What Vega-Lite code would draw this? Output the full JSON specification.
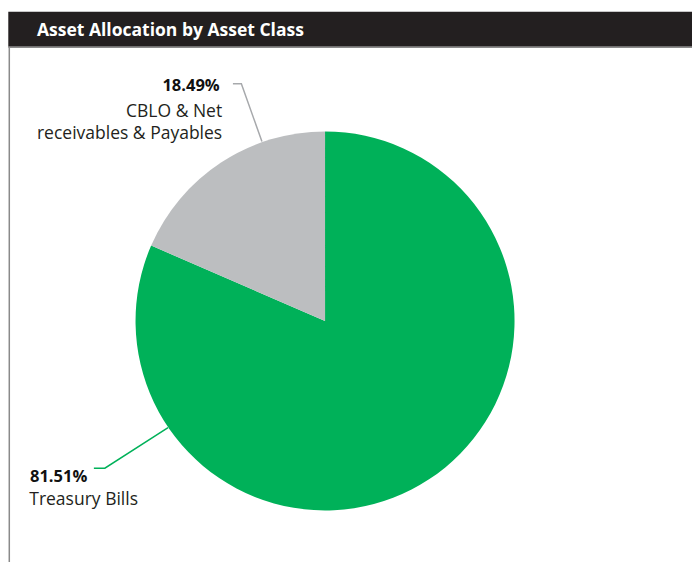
{
  "$schema": "https://vega.github.io/schema/vega-lite/v6.json",
  "width": 693,
  "height": 563,
  "padding": 0,
  "autosize": {"type": "fit", "contains": "padding"},
  "background": "white",
  "view": {"stroke": null},
  "config": {"font": "Open Sans", "axis": {"disable": true}},
  "datasets": {
    "slices": [
      {"category": "Treasury Bills", "share": 0.8151},
      {"category": "CBLO & Net receivables & Payables", "share": 0.1849}
    ],
    "labels": [
      {"category": "CBLO & Net receivables & Payables", "share": 0.1849, "name": "CBLO & Net\nreceivables & Payables", "pctX": -0.5567, "pctY": 1.2164, "nameX": -0.5435, "nameY": 1.0792},
      {"category": "Treasury Bills", "share": 0.8151, "name": "Treasury Bills", "pctX": -1.5594, "pctY": -0.8522, "nameX": -1.5631, "nameY": -0.9736}
    ],
    "leaders": [
      {"category": "CBLO & Net receivables & Payables", "seq": 1, "x": -0.4868, "y": 1.2533},
      {"category": "CBLO & Net receivables & Payables", "seq": 2, "x": -0.4422, "y": 1.2533},
      {"category": "CBLO & Net receivables & Payables", "seq": 3, "x": -0.3335, "y": 0.9488},
      {"category": "Treasury Bills", "seq": 1, "x": -1.2216, "y": -0.7784},
      {"category": "Treasury Bills", "seq": 2, "x": -1.1636, "y": -0.7784},
      {"category": "Treasury Bills", "seq": 3, "x": -0.8296, "y": -0.5636}
    ],
    "frame": [
      {"part": "header", "x": -1.6739, "x2": 1.9393, "y": 1.6348, "y2": 1.4501, "title": "Asset Allocation by Asset Class", "tx": -1.5224, "ty": 1.5066}
    ],
    "borders": [
      {"part": "underline", "x": -1.6739, "x2": 1.9393, "y": 1.4470, "y2": 1.4470},
      {"part": "left", "x": -1.6686, "x2": -1.6686, "y": 1.4470, "y2": -1.2744}
    ]
  },
  "resolve": {"scale": {"color": "independent"}},
  "layer": [
    {
      "data": {"name": "frame"},
      "mark": {"type": "rect", "color": "#231f20"},
      "encoding": {
        "x": {"field": "x", "type": "quantitative", "scale": {"domain": [-1.7177, 1.9393], "nice": false, "zero": false}, "axis": null},
        "x2": {"field": "x2"},
        "y": {"field": "y", "type": "quantitative", "scale": {"domain": [-1.2744, 1.6966], "nice": false, "zero": false}, "axis": null},
        "y2": {"field": "y2"}
      }
    },
    {
      "data": {"name": "borders"},
      "mark": {"type": "rule", "color": "#8a8a8a", "strokeWidth": 1.5},
      "encoding": {
        "x": {"field": "x", "type": "quantitative"},
        "x2": {"field": "x2"},
        "y": {"field": "y", "type": "quantitative"},
        "y2": {"field": "y2"}
      }
    },
    {
      "data": {"name": "frame"},
      "mark": {"type": "text", "color": "white", "fontWeight": "bold", "fontSize": 17.5, "align": "left", "baseline": "alphabetic"},
      "encoding": {
        "x": {"field": "tx", "type": "quantitative"},
        "y": {"field": "ty", "type": "quantitative"},
        "text": {"field": "title"}
      }
    },
    {
      "data": {"name": "slices"},
      "mark": {"type": "arc", "outerRadius": 189.5},
      "encoding": {
        "x": {"datum": 0, "type": "quantitative"},
        "y": {"datum": 0, "type": "quantitative"},
        "theta": {"field": "share", "type": "quantitative", "stack": true},
        "order": {"field": "share", "sort": "descending"},
        "color": {"field": "category", "type": "nominal", "scale": {"domain": ["Treasury Bills", "CBLO & Net receivables & Payables"], "range": ["#00b159", "#bcbec0"]}, "legend": null}
      }
    },
    {
      "data": {"name": "leaders"},
      "mark": {"type": "line", "strokeWidth": 1.5},
      "encoding": {
        "x": {"field": "x", "type": "quantitative"},
        "y": {"field": "y", "type": "quantitative"},
        "order": {"field": "seq"},
        "detail": {"field": "category"},
        "color": {"field": "category", "type": "nominal", "scale": {"domain": ["Treasury Bills", "CBLO & Net receivables & Payables"], "range": ["#00b159", "#a7a9ac"]}, "legend": null}
      }
    },
    {
      "data": {"name": "labels"},
      "transform": [{"filter": "datum.category !== 'Treasury Bills'"}],
      "mark": {"type": "text", "align": "right", "baseline": "alphabetic", "fontWeight": "bold", "fontSize": 16.5, "color": "#111111"},
      "encoding": {
        "x": {"field": "pctX", "type": "quantitative"},
        "y": {"field": "pctY", "type": "quantitative"},
        "text": {"field": "share", "type": "quantitative", "format": ".2%"}
      }
    },
    {
      "data": {"name": "labels"},
      "transform": [{"filter": "datum.category !== 'Treasury Bills'"}],
      "mark": {"type": "text", "align": "right", "baseline": "alphabetic", "fontSize": 17.5, "lineBreak": "\n", "lineHeight": 22, "color": "#231f20"},
      "encoding": {
        "x": {"field": "nameX", "type": "quantitative"},
        "y": {"field": "nameY", "type": "quantitative"},
        "text": {"field": "name"}
      }
    },
    {
      "data": {"name": "labels"},
      "transform": [{"filter": "datum.category === 'Treasury Bills'"}],
      "mark": {"type": "text", "align": "left", "baseline": "alphabetic", "fontWeight": "bold", "fontSize": 16.5, "color": "#111111"},
      "encoding": {
        "x": {"field": "pctX", "type": "quantitative"},
        "y": {"field": "pctY", "type": "quantitative"},
        "text": {"field": "share", "type": "quantitative", "format": ".2%"}
      }
    },
    {
      "data": {"name": "labels"},
      "transform": [{"filter": "datum.category === 'Treasury Bills'"}],
      "mark": {"type": "text", "align": "left", "baseline": "alphabetic", "fontSize": 17.5, "lineBreak": "\n", "lineHeight": 22, "color": "#231f20"},
      "encoding": {
        "x": {"field": "nameX", "type": "quantitative"},
        "y": {"field": "nameY", "type": "quantitative"},
        "text": {"field": "name"}
      }
    }
  ]
}
